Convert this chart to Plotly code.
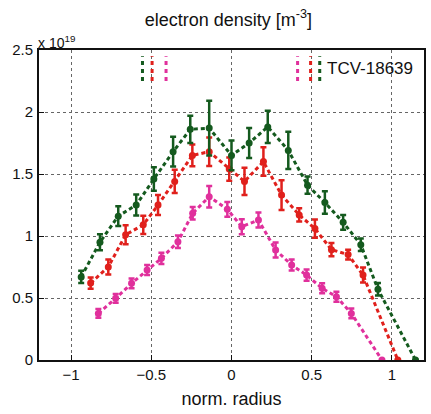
import plotly.graph_objects as go

# normalized radius / density (x 1e19 m^-3)
green_x = [-0.937, -0.82, -0.706, -0.594, -0.484, -0.364, -0.257, -0.139, 0.0, 0.11, 0.226, 0.354, 0.474, 0.582, 0.696, 0.806, 0.913, 1.147]
green_y = [0.67, 0.95, 1.16, 1.25, 1.46, 1.68, 1.86, 1.87, 1.65, 1.75, 1.88, 1.69, 1.41, 1.27, 1.11, 0.93, 0.57, 0.0]
green_e = [0.05, 0.065, 0.08, 0.085, 0.095, 0.12, 0.11, 0.22, 0.12, 0.12, 0.13, 0.15, 0.07, 0.09, 0.06, 0.05, 0.05, 0.0]

red_x = [-0.878, -0.768, -0.66, -0.55, -0.458, -0.354, -0.244, -0.139, -0.014, 0.081, 0.199, 0.312, 0.422, 0.52, 0.623, 0.727, 0.82, 1.037]
red_y = [0.62, 0.75, 1.01, 1.09, 1.25, 1.44, 1.65, 1.68, 1.54, 1.44, 1.60, 1.33, 1.17, 1.06, 0.89, 0.85, 0.685, 0.0]
red_e = [0.045, 0.06, 0.077, 0.074, 0.08, 0.094, 0.087, 0.115, 0.094, 0.11, 0.115, 0.12, 0.054, 0.074, 0.054, 0.04, 0.06, 0.0]

mag_x = [-0.83, -0.722, -0.623, -0.526, -0.437, -0.334, -0.242, -0.139, -0.026, 0.064, 0.168, 0.275, 0.375, 0.468, 0.565, 0.654, 0.747, 0.938]
mag_y = [0.376, 0.497, 0.618, 0.726, 0.82, 0.954, 1.183, 1.317, 1.215, 1.075, 1.129, 0.887, 0.766, 0.685, 0.578, 0.51, 0.376, 0.0]
mag_e = [0.035, 0.035, 0.04, 0.04, 0.045, 0.05, 0.05, 0.087, 0.06, 0.06, 0.06, 0.06, 0.045, 0.045, 0.04, 0.04, 0.04, 0.0]

# positions of the short vertical marker lines near top
mark_green = [-0.555, 0.55]
mark_red = [-0.495, 0.493]
mark_mag = [-0.408, 0.412]
mark_y = [2.25, 2.45]

x_ticks = [-1, -0.5, 0, 0.5, 1]
x_labels = ["\u22121", "\u22120.5", "0", "0.5", "1"]
y_ticks = [0, 0.5, 1, 1.5, 2, 2.5]
y_labels = ["0", "0.5", "1", "1.5", "2", "2.5"]

GREEN = "#145a1e"
RED = "#e0201c"
MAG = "#e0309c"

fig = go.Figure()

for xs, ys, es, col in [(mag_x, mag_y, mag_e, MAG), (red_x, red_y, red_e, RED), (green_x, green_y, green_e, GREEN)]:
    fig.add_trace(go.Scatter(
        x=xs, y=ys, mode="lines+markers",
        line=dict(color=col, width=3, dash="4px,3px"),
        marker=dict(color=col, size=7, symbol="circle"),
        error_y=dict(type="data", array=es, visible=True, color=col, thickness=2.5, width=3),
        showlegend=False, hoverinfo="skip",
    ))

for marks, col in [(mark_green, GREEN), (mark_red, RED), (mark_mag, MAG)]:
    for m in marks:
        fig.add_trace(go.Scatter(
            x=[m, m], y=mark_y, mode="lines",
            line=dict(color=col, width=3, dash="4px,4px"),
            showlegend=False, hoverinfo="skip",
        ))

fig.add_annotation(x=0.585, y=2.35, xref="x", yref="y", text="TCV-18639", showarrow=False,
                   xanchor="left", yanchor="middle", font=dict(size=17, color="#111"))
fig.add_annotation(x=0, y=1.0, xref="paper", yref="paper", text="x 10<sup>19</sup>", showarrow=False,
                   xanchor="left", yanchor="bottom", yshift=-3, xshift=-3, font=dict(size=14, color="#111"))

fig.update_layout(
    width=431, height=414,
    margin=dict(l=39, r=5, t=50, b=54),
    paper_bgcolor="white", plot_bgcolor="white",
    font=dict(family="Liberation Sans, Arial, sans-serif", color="#111", size=15),
    title=dict(text="electron density [m<sup>-3</sup>]", x=0.53, xanchor="center", y=0.968, yanchor="top",
               font=dict(size=18)),
)
fig.update_xaxes(
    range=[-1.2, 1.2], tickvals=x_ticks, ticktext=x_labels,
    showgrid=True, gridcolor="#666", griddash="dot", gridwidth=1,
    showline=True, linecolor="#111", linewidth=2, mirror=True,
    ticks="inside", ticklen=5, tickcolor="#111",
    zeroline=False, tickfont=dict(size=15),
    title=dict(text="norm. radius", font=dict(size=18), standoff=10),
)
fig.update_yaxes(
    range=[0, 2.5], tickvals=y_ticks, ticktext=y_labels,
    showgrid=True, gridcolor="#666", griddash="dot", gridwidth=1,
    showline=True, linecolor="#111", linewidth=2, mirror=True,
    ticks="inside", ticklen=5, tickcolor="#111",
    zeroline=False, ticklabelstandoff=1, tickfont=dict(size=15),
)

fig.write_html("out.html")
